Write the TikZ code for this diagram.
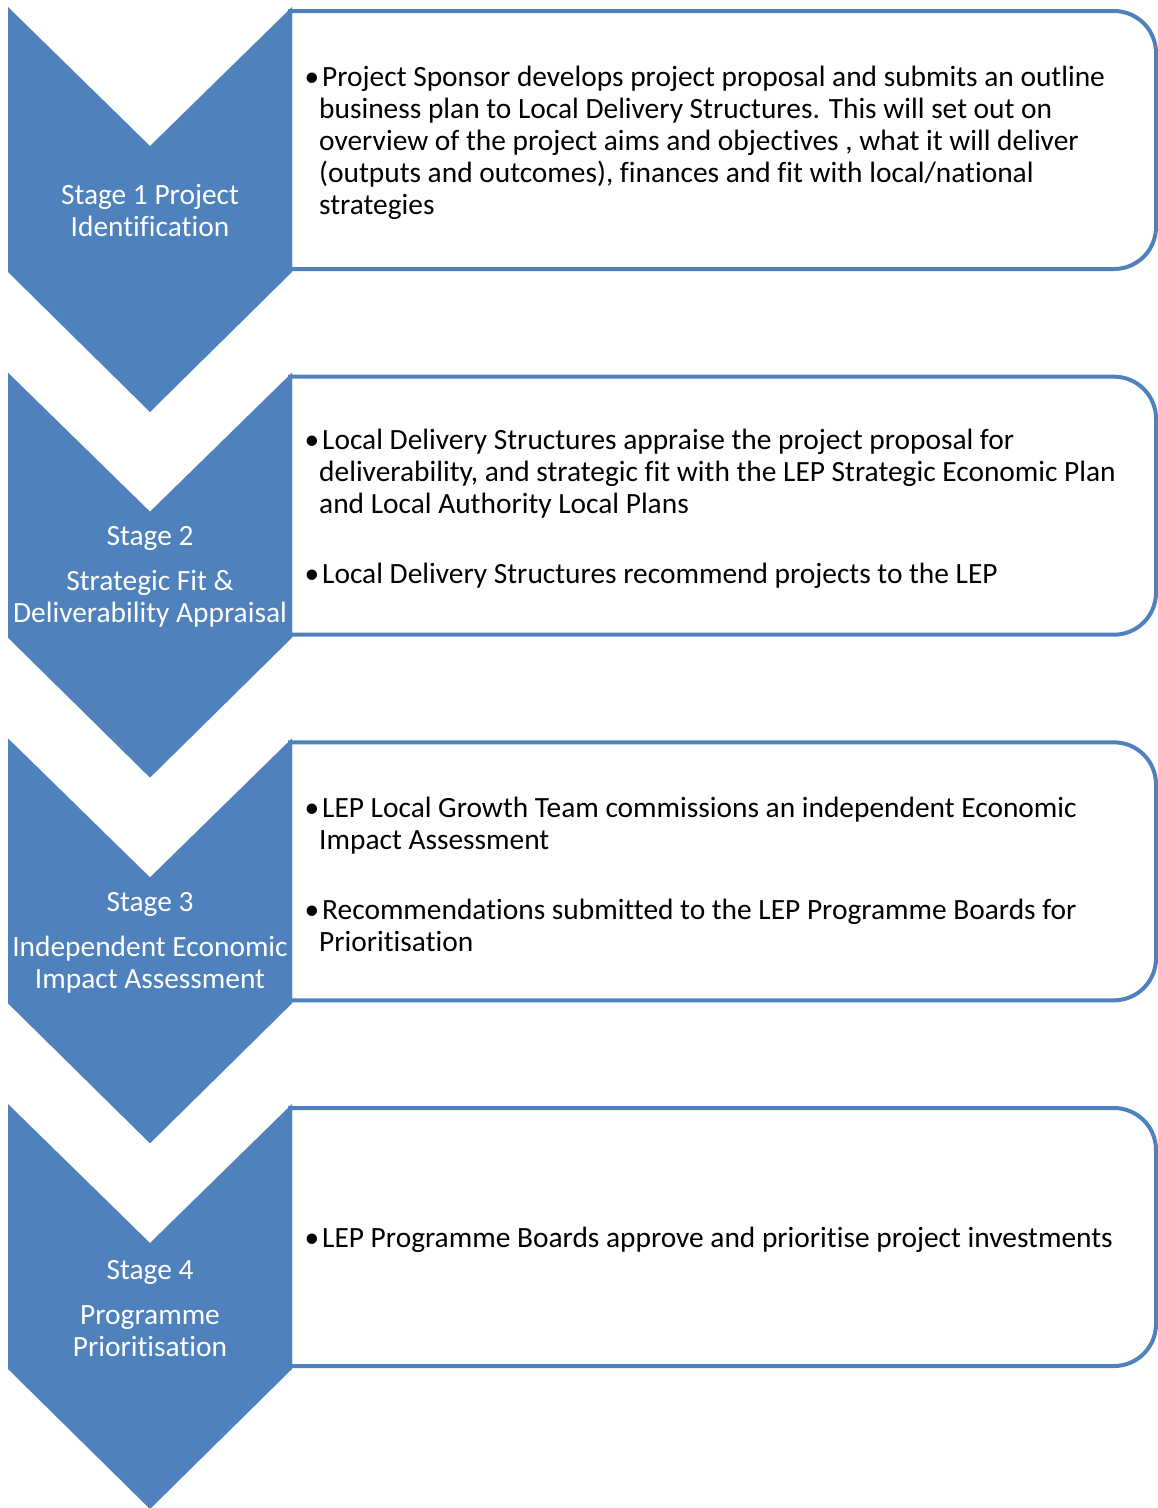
\documentclass[tikz,border=0pt]{standalone}
\usepackage{fontspec}
\setmainfont{Carlito}[Ligatures=NoCommon]
\definecolor{stageblue}{HTML}{4F81BD}
\newcommand{\bul}{\llap{•}\hspace{3pt}}

\begin{document}
\begin{tikzpicture}[x=1pt, y=-1pt,
	chevron/.style={fill=stageblue},
	stagebox/.style={draw=stageblue, line width=4pt, fill=white},
	stagetext/.style={text=white, align=center, inner sep=0pt, font=\fontsize{29.4}{32}\selectfont},
	boxtext/.style={text=black, align=left, anchor=west, inner sep=0pt, font=\fontsize{29.4}{32}\selectfont}]
	\useasboundingbox (0,0) rectangle (1158,1508);

	% boxes first, chevrons on top
	\foreach \i in {0,1,2,3} {
		\pgfmathsetmacro{\top}{11+365.67*\i}
		\draw[stagebox] (290,\top) [rounded corners=42] -- (1156,\top) -- (1156,\top+258) [sharp corners] -- (290,\top+258) -- cycle;
	}
	\foreach \i in {0,1,2,3} {
		\pgfmathsetmacro{\top}{7+365.67*\i}
		\fill[chevron] (8,\top) -- (150,\top+139) -- (292,\top) -- (292,\top+265) -- (150,\top+405) -- (8,\top+265) -- cycle;
	}

	\node[stagetext] (s1) at (150,210) {Stage 1 Project\\Identification};
	\node[stagetext] (s2) at (150,577) {Stage 2\\[13pt]Strategic Fit \&\\Deliverability Appraisal};
	\node[stagetext] (s3) at (150,943) {Stage 3\\[13pt]Independent Economic\\Impact Assessment};
	\node[stagetext] (s4) at (150,1309) {Stage 4\\[13pt]Programme\\Prioritisation};

	\node[boxtext] (t1) at (319,143) {\bul Project Sponsor develops project proposal and submits an outline\\business plan to Local Delivery Structures. This will set out on\\overview of the project aims and objectives , what it will deliver\\(outputs and outcomes), finances and fit with local/national\\strategies};
	\node[boxtext] (t2) at (319,509) {\bul Local Delivery Structures appraise the project proposal for\\deliverability, and strategic fit with the LEP Strategic Economic Plan\\and Local Authority Local Plans\\[38pt]\bul Local Delivery Structures recommend projects to the LEP};
	\node[boxtext] (t3) at (319,874) {\bul LEP Local Growth Team commissions an independent Economic\\Impact Assessment\\[38pt]\bul Recommendations submitted to the LEP Programme Boards for\\Prioritisation};
	\node[boxtext] (t4) at (319,1240) {\bul LEP Programme Boards approve and prioritise project investments};
\end{tikzpicture}
\end{document}
